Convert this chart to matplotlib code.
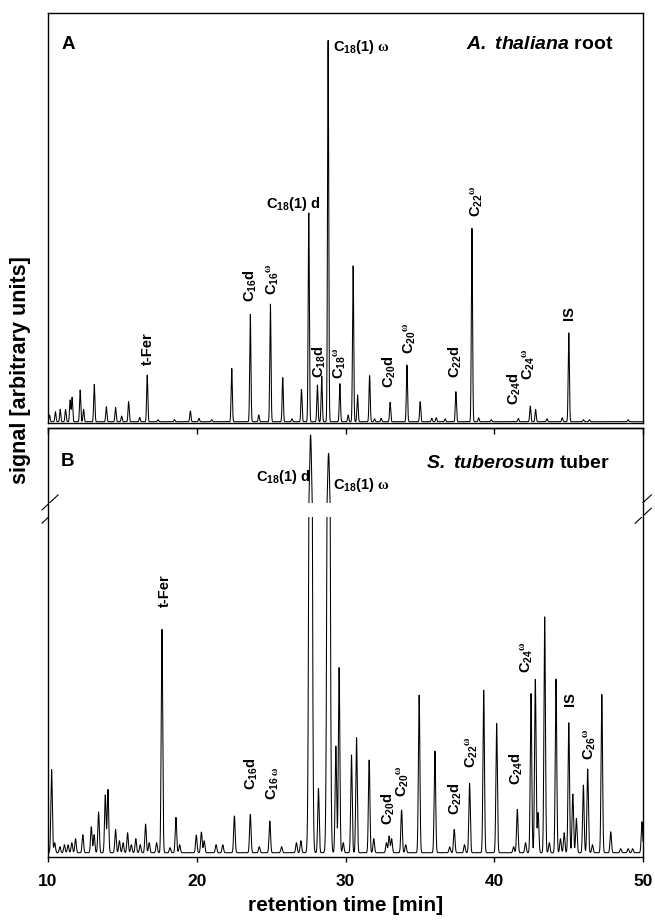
import numpy as np
import matplotlib
matplotlib.use('Agg')
import matplotlib.pyplot as plt
import matplotlib.transforms as mtransforms

plt.rcParams['font.family'] = 'Liberation Sans'
plt.rcParams['font.weight'] = 'bold'
plt.rcParams['mathtext.fontset'] = 'custom'
plt.rcParams['mathtext.rm'] = 'Liberation Sans:bold'
plt.rcParams['mathtext.bf'] = 'Liberation Sans:bold'
plt.rcParams['mathtext.it'] = 'Liberation Serif'
plt.rcParams['mathtext.bfit'] = 'Liberation Sans:italic:bold'

# ── peak tables (retention time [min], signal) ──
a_time = [10.10, 10.50, 10.82, 11.18, 11.49, 11.62, 12.16, 12.39, 13.11, 13.92,
          14.54, 14.95, 15.42, 16.16, 16.67, 17.40, 18.50, 19.57, 20.15, 21.00,
          22.35, 23.60, 24.17, 24.95, 25.78, 26.40, 27.04, 27.53, 28.11, 28.40,
          28.83, 29.62, 30.18, 30.51, 30.81, 31.62, 31.95, 32.40, 33.00, 34.13,
          35.02, 35.80, 36.10, 36.70, 37.42, 38.50, 38.95, 39.80, 41.62, 42.42,
          42.78, 43.55, 44.57, 45.01, 46.00, 46.40, 49.00]
a_height = [6.7, 10.0, 12.3, 12.3, 21.7, 24.3, 31.7, 12.3, 37.3, 15.0,
            14.3, 5.7, 20.0, 4.3, 46.7, 2.0, 2.0, 10.7, 3.3, 2.0,
            53.3, 107.3, 6.7, 117.7, 44.0, 3.0, 32.3, 209.0, 36.7, 45.7,
            381.7, 38.0, 6.7, 156.0, 26.7, 46.0, 3.0, 3.5, 19.3, 56.7,
            20.0, 3.5, 4.0, 3.0, 30.0, 193.3, 4.0, 2.0, 3.3, 15.7,
            12.3, 3.0, 4.0, 89.0, 2.0, 2.0, 2.0]

b_time = [10.24, 10.45, 10.80, 11.10, 11.35, 11.60, 11.85, 12.34, 12.91, 13.10,
          13.40, 13.85, 14.03, 14.54, 14.80, 15.05, 15.35, 15.60, 15.90, 16.20,
          16.56, 16.80, 17.30, 17.66, 18.20, 18.60, 18.85, 19.97, 20.31, 20.50,
          21.30, 21.75, 22.53, 23.60, 24.20, 24.91, 25.70, 26.70, 27.00, 27.65,
          28.18, 28.86, 29.35, 29.57, 29.85, 30.40, 30.74, 31.59, 31.90, 32.75,
          32.93, 33.10, 33.77, 34.05, 34.95, 36.01, 37.00, 37.31, 38.00, 38.34,
          39.29, 40.16, 41.30, 41.55, 42.10, 42.47, 42.76, 42.95, 43.39, 43.70,
          44.15, 44.45, 44.70, 45.01, 45.28, 45.52, 45.99, 46.28, 46.60, 47.23,
          47.83, 48.50, 49.00, 49.30, 49.93]
b_height = [83.3, 10.0, 6.0, 8.0, 8.0, 10.0, 14.0, 18.0, 26.0, 18.0,
            40.7, 57.7, 63.3, 23.3, 12.0, 10.0, 20.0, 8.0, 14.0, 8.0,
            28.7, 10.0, 10.0, 223.3, 5.0, 35.3, 8.0, 17.7, 20.7, 12.0,
            8.0, 8.0, 36.7, 38.3, 6.0, 31.7, 6.0, 10.0, 12.0, 1099.0,
            64.3, 916.0, 106.7, 185.3, 10.0, 97.7, 115.0, 92.7, 14.0, 10.0,
            16.7, 14.0, 42.7, 8.0, 157.7, 101.7, 6.0, 23.3, 8.0, 69.3,
            162.7, 129.3, 6.0, 43.3, 10.0, 159.3, 173.3, 40.0, 236.0, 10.0,
            173.7, 14.0, 20.0, 130.0, 58.7, 34.3, 67.7, 83.7, 8.0, 158.3,
            21.0, 4.0, 4.0, 4.0, 31.0]

x_ticks = [10, 20, 30, 40, 50]

# broken y axis of panel B: linear below BREAK, compressed above
BREAK = 342.0
SQUEEZE = 0.1


def fwd(v):
    v = np.asarray(v, dtype=float)
    return np.where(v <= BREAK, v, BREAK + (v - BREAK) * SQUEEZE)


def inv(u):
    u = np.asarray(u, dtype=float)
    return np.where(u <= BREAK, u, BREAK + (u - BREAK) / SQUEEZE)


def chromatogram(t, times, heights, sigma):
    times = np.asarray(times)[:, None]
    heights = np.asarray(heights)[:, None]
    sig = np.where(heights > 500, 0.08, sigma)
    return (heights * np.exp(-0.5 * ((t[None, :] - times) / sig) ** 2)).sum(axis=0)


t = np.linspace(10, 50, 10001)
sig_a = chromatogram(t, a_time, a_height, 0.04)
sig_b = chromatogram(t, b_time, b_height, 0.05)

fig = plt.figure(figsize=(6.55, 9.22), dpi=100)
axA = fig.add_axes([0.0733, 0.5412, 0.9084, 0.4447])
axB = fig.add_axes([0.0733, 0.0708, 0.9084, 0.4650])

for ax in (axA, axB):
    ax.set_xlim(10, 50)
    ax.set_yticks([])
    for s in ax.spines.values():
        s.set_linewidth(1.0)

# ── Panel A ────────────────────────────────────────────────────────────────
axA.plot(t, sig_a, color='black', lw=0.75)
axA.set_ylim(-1.3, 408.7)
axA.tick_params(axis='x', bottom=False, labelbottom=False)

axA.text(0.022, 0.922, 'A', transform=axA.transAxes, fontsize=13.5,
         fontweight='bold', ha='left', va='center')
axA.text(0.95, 0.922, r'$\mathbfit{A.}$ $\mathbfit{thaliana}$ root',
         transform=axA.transAxes, fontsize=14, fontweight='bold',
         ha='right', va='center')

lab_fs = 10.5
rot_labels_a = [
    ('t-Fer', 16.70, 56.7),
    (r'C$_{16}$d', 23.60, 120.0),
    (r'C$_{16}{}^{\omega}$', 25.10, 127.0),
    (r'C$_{18}$d', 28.27, 43.7),
    (r'C$_{18}{}^{\omega}$', 29.60, 42.4),
    (r'C$_{20}$d', 32.98, 33.7),
    (r'C$_{20}{}^{\omega}$', 34.33, 67.7),
    (r'C$_{22}$d', 37.42, 43.7),
    (r'C$_{22}{}^{\omega}$', 38.81, 205.0),
    (r'C$_{24}$d', 41.39, 16.7),
    (r'C$_{24}{}^{\omega}$', 42.33, 42.0),
    ('IS', 45.05, 101.7),
]
for txt, x, y in rot_labels_a:
    axA.text(x, y, txt, rotation=90, ha='center', va='bottom',
             fontsize=lab_fs, fontweight='bold')
axA.text(26.5, 208.7, r'C$_{18}$(1) d', ha='center', va='bottom',
         fontsize=lab_fs, fontweight='bold')
axA.text(29.17, 374.7, r'C$_{18}$(1) $\omega$', ha='left', va='center',
         fontsize=lab_fs, fontweight='bold')

# ── Panel B ────────────────────────────────────────────────────────────────
axB.set_yscale('function', functions=(fwd, inv))
axB.plot(t, sig_b, color='black', lw=0.75)
axB.set_ylim(-4, float(inv(424.7)))
axB.set_yticks([])
axB.axhspan(335.5, float(inv(349.5)), color='white', zorder=2.2, lw=0)

axB.set_xticks(x_ticks)
axB.tick_params(axis='x', direction='out', length=3.6, width=1.0, pad=9,
                labelsize=12.5)
for lbl in axB.get_xticklabels():
    lbl.set_fontweight('bold')

top = axB.secondary_xaxis('top')
top.set_xticks(x_ticks)
top.tick_params(axis='x', direction='in', length=4, width=1.0, labeltop=False)
top.spines['top'].set_linewidth(1.0)

axB.text(0.022, 0.921, 'B', transform=axB.transAxes, fontsize=13.5,
         fontweight='bold', ha='left', va='center')
axB.text(0.945, 0.918, r'$\mathbfit{S.}$ $\mathbfit{tuberosum}$ tuber',
         transform=axB.transAxes, fontsize=14, fontweight='bold',
         ha='right', va='center')

rot_labels_b = [
    ('t-Fer', 17.84, 246.0),
    (r'C$_{16}$d', 23.67, 62.7),
    (r'C$_{16\ \omega}$', 25.13, 52.7),
    (r'C$_{20}$d', 32.87, 27.7),
    (r'C$_{20}{}^{\omega}$', 33.84, 56.0),
    (r'C$_{22}$d', 37.42, 37.7),
    (r'C$_{22}{}^{\omega}$', 38.48, 84.4),
    (r'C$_{24}$d', 41.50, 67.7),
    (r'C$_{24}{}^{\omega}$', 42.22, 179.4),
    ('IS', 45.09, 146.7),
    (r'C$_{26}{}^{\omega}$', 46.44, 92.7),
]
for txt, x, y in rot_labels_b:
    axB.text(x, y, txt, rotation=90, ha='center', va='bottom',
             fontsize=lab_fs, fontweight='bold')

blend = mtransforms.blended_transform_factory(axB.transData, axB.transAxes)
axB.text(27.66, 0.886, r'C$_{18}$(1) d', transform=blend, ha='right', va='center',
         fontsize=lab_fs, fontweight='bold')
axB.text(29.17, 0.867, r'C$_{18}$(1) $\omega$', transform=blend, ha='left',
         va='center', fontsize=lab_fs, fontweight='bold')

# break marks on both spines
for x0 in (-0.010, 0.987):
    for y0 in (0.809, 0.778):
        axB.plot([x0, x0 + 0.027], [y0, y0 + 0.035], transform=axB.transAxes,
                 color='black', lw=0.8, clip_on=False)

axB.set_xlabel('retention time [min]', fontsize=15, fontweight='bold', labelpad=5)
fig.text(0.031, 0.599, 'signal [arbitrary units]', rotation=90, ha='center',
         va='center', fontsize=15.5, fontweight='bold')

fig.savefig('out.png', dpi=100)
